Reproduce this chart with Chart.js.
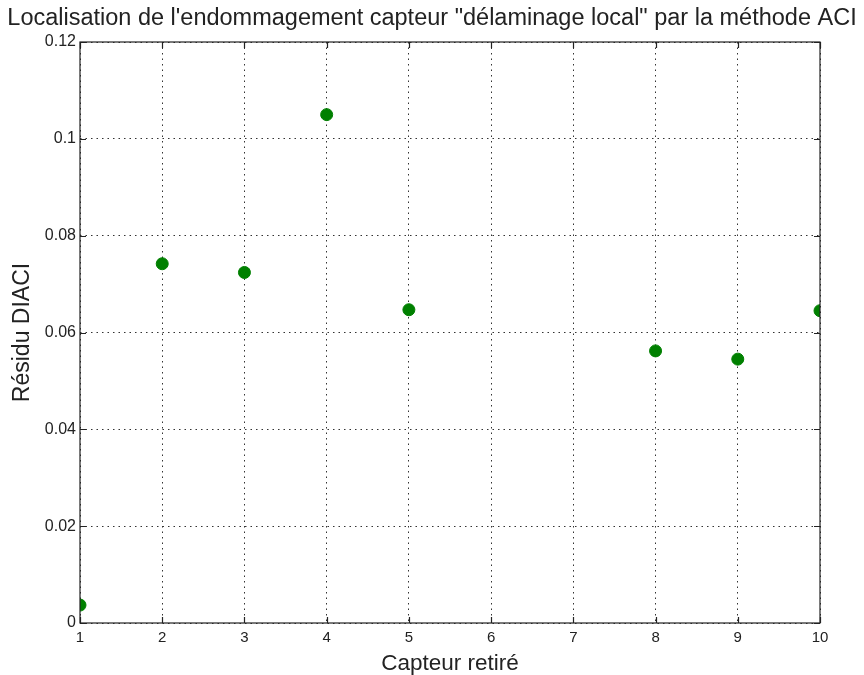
<!DOCTYPE html>
<html>
<head>
<meta charset="utf-8">
<script src="https://cdn.jsdelivr.net/npm/chart.js@4"></script>
<style>
    html, body { margin: 0; padding: 0; background: #fff; }
    #wrap { width: 864px; height: 675px; }
</style>
</head>
<body>
<div id="wrap"><canvas id="chart"></canvas></div>
<script>
const TITLE = 'Localisation de l\'endommagement capteur "délaminage local" par la méthode ACI';
const X_LABEL = 'Capteur retiré';
const Y_LABEL = 'Résidu DIACI';
const capteurs = [1, 2, 3, 4, 5, 8, 9, 10];
const residus = [0.0037, 0.0742, 0.0724, 0.105, 0.0647, 0.0562, 0.0545, 0.0645];
const FONT = '"Liberation Sans", Arial, sans-serif';

// MATLAB style box + inward ticks
const boxPlugin = {
    id: 'box',
    afterDraw(chart) {
        const { ctx, chartArea: a, scales } = chart;
        ctx.save();
        ctx.strokeStyle = '#222';
        ctx.lineWidth = 1.2;
        ctx.strokeRect(a.left, a.top, a.right - a.left, a.bottom - a.top);
        const len = 6;
        ctx.beginPath();
        scales.x.ticks.forEach(t => {
            const px = Math.round(scales.x.getPixelForValue(t.value)) + 0.5;
            ctx.moveTo(px, a.bottom); ctx.lineTo(px, a.bottom - len);
            ctx.moveTo(px, a.top); ctx.lineTo(px, a.top + len);
        });
        scales.y.ticks.forEach(t => {
            const py = Math.round(scales.y.getPixelForValue(t.value)) + 0.5;
            ctx.moveTo(a.left, py); ctx.lineTo(a.left + len, py);
            ctx.moveTo(a.right, py); ctx.lineTo(a.right - len, py);
        });
        ctx.stroke();
        ctx.restore();
    }
};

document.addEventListener('DOMContentLoaded', () => {
    Chart.defaults.font.family = FONT;
    Chart.defaults.color = '#222';

    new Chart(document.getElementById('chart'), {
        type: 'scatter',
        data: {
            datasets: [{
                data: capteurs.map((c, i) => ({ x: c, y: residus[i] })),
                backgroundColor: '#008000',
                borderColor: '#008000',
                pointRadius: 6,
                pointHoverRadius: 6
            }]
        },
        options: {
            responsive: true,
            maintainAspectRatio: false,
            animation: false,
            layout: { padding: 0 },
            plugins: {
                legend: { display: false },
                tooltip: { enabled: false },
                title: {
                    display: true,
                    text: TITLE,
                    font: { size: 23.5, weight: 'normal', lineHeight: 1.2 },
                    color: '#222',
                    padding: { top: 4, bottom: 9.8 }
                }
            },
            scales: {
                x: {
                    type: 'linear',
                    min: 1, max: 10,
                    ticks: { stepSize: 1, font: { size: 15 }, padding: 6, maxRotation: 0 },
                    grid: { color: '#333', lineWidth: 1, drawTicks: false },
                    border: { display: false, dash: [1.5, 4] },
                    title: { display: true, text: X_LABEL, font: { size: 22.5, lineHeight: 1 }, padding: 0 },
                    afterFit(s) { s.height = 52; }
                },
                y: {
                    min: 0, max: 0.12,
                    ticks: {
                        stepSize: 0.02, font: { size: 16 }, padding: 4,
                        callback: v => String(+v.toFixed(2))
                    },
                    grid: { color: '#333', lineWidth: 1, drawTicks: false },
                    border: { display: false, dash: [1.5, 4] },
                    title: { display: true, text: Y_LABEL, font: { size: 23, lineHeight: 1.2 }, padding: { top: 9, bottom: 0 } },
                    afterFit(s) { s.width = 80; }
                },
                // empty right margin so the title centres on the full width
                yr: {
                    position: 'right',
                    min: 0, max: 1,
                    ticks: { display: false },
                    grid: { display: false },
                    border: { display: false },
                    afterFit(s) { s.width = 44; }
                }
            }
        },
        plugins: [boxPlugin]
    });
});
</script>
</body>
</html>
